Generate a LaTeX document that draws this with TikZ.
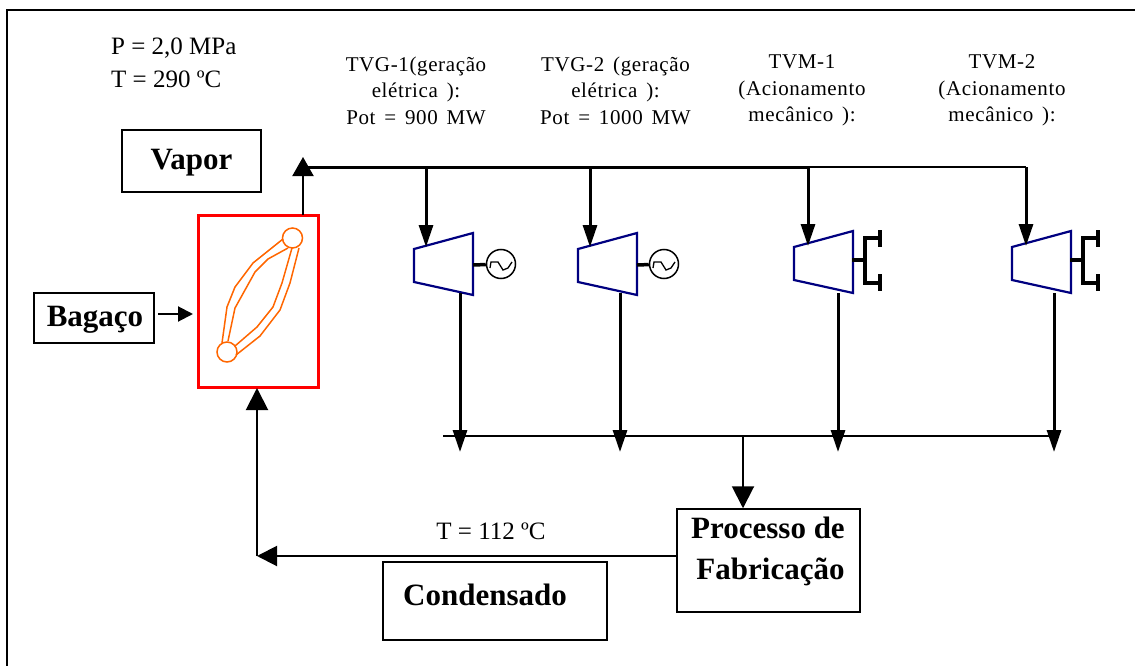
\documentclass[tikz,border=0pt]{standalone}
\usepackage{fontspec}
\setmainfont{Liberation Serif}
\newfontfamily\infofont[LetterSpace=3,WordSpace=1.5]{Liberation Serif}
\usetikzlibrary{arrows.meta}
\definecolor{turbineblue}{RGB}{0,0,128}
\definecolor{coilorange}{RGB}{255,102,0}
\tikzset{
every node/.style={inner sep=0pt},
box/.style={rectangle, draw, line width=1.5pt},
boxtext/.style={font=\fontsize{31}{41}\selectfont\bfseries, align=center},
info/.style={font=\fontsize{21}{26.5}\selectfont\infofont, align=center},
data/.style={font=\fontsize{25}{32.5}\selectfont, align=left},
steam/.style={line width=3pt, -{Triangle[length=22pt,width=14pt]}},
flow/.style={line width=2pt, -{Triangle[length=20pt,width=20pt]}},
blade/.style={draw=turbineblue, line width=2.2pt},
coil/.style={draw=coilorange, line width=1.5pt},
shaft/.style={line width=3.5pt}
}

\begin{document}
\begin{tikzpicture}[x=1pt,y=-1pt]
\useasboundingbox (0,0) rectangle (1135,666);
\draw[line width=2pt] (7,666) -- (7,10) -- (1135,10);

\node[data,anchor=north west] (data) at (111,38) {P = 2,0 MPa\\T = 290 ºC};
\node[info] (lab1) at (416,90.5) {TVG-1(geração\\elétrica ):\\Pot = 900 MW};
\node[info] (lab2) at (615.5,90.5) {TVG-2 (geração\\elétrica ):\\Pot = 1000 MW};
\node[info] (lab3) at (802,90.5) {TVM-1\\(Acionamento\\mecânico ):};
\node[info] (lab4) at (1002,90.5) {TVM-2\\(Acionamento\\mecânico ):};
\node[data] (lab5) at (491,531) {T = 112 ºC};

\node[box,minimum width=139pt,minimum height=62pt] (vapor) at (191.5,161) {};
\node[box,minimum width=120pt,minimum height=50pt] (bagaco) at (94,318) {};
\node[box,minimum width=224pt,minimum height=78pt] (cond) at (495,601) {};
\node[box,minimum width=183pt,minimum height=103pt] (proc) at (768.5,560.5) {};
\node[boxtext] (vaportxt) at (191.5,163) {Vapor};
\node[boxtext] (bagacotxt) at (95,320) {Bagaço};
\node[boxtext] (condtxt) at (485,595) {Condensado};
\node[boxtext] (proctxt) at (768,551) {Processo de\\\hspace*{5pt}Fabricação};
\node[rectangle,draw=red,line width=3pt,minimum width=120pt,minimum height=172pt] (boiler) at (258,301) {};

% coil inside the boiler
\node[circle,coil,minimum size=20pt] (drumA) at (292.5,238) {};
\node[circle,coil,minimum size=20pt] (drumB) at (227,352) {};
\draw[coil] (283,239) -- (253,263) -- (235,287) -- (227,307) -- (222,343);
\draw[coil] (288,248) -- (268,259) -- (255,272) -- (235,308) -- (228,341);
\draw[coil] (299,248) -- (290,283) -- (280,310) -- (260,336) -- (236,355);
\draw[coil] (292,248) -- (282,283) -- (273,307) -- (257,327) -- (235,346);

% turbines
\foreach \name/\xa/\ya in {t1/414/0,t2/578/0,t3/794/-2,t4/1012/-2}{
\draw[blade] (\xa,249+\ya) -- (\xa+59,233+\ya) -- (\xa+59,295+\ya) -- (\xa,282+\ya) -- cycle;
}
\coordinate (t1in) at (426,247);
\coordinate (t2in) at (590,247);
\coordinate (t3in) at (808,246);
\coordinate (t4in) at (1026,246);
\coordinate (t1out) at (460,293);
\coordinate (t2out) at (620,293);
\coordinate (t3out) at (838,293);
\coordinate (t4out) at (1054,293);

% generators
\node[circle,draw,line width=1.5pt,minimum size=29pt] (gen1) at (501,264) {};
\node[circle,draw,line width=1.5pt,minimum size=29pt] (gen2) at (664,264) {};
\foreach \g in {gen1,gen2}{
\draw[line width=1.3pt,shift={(\g)}] (-11,4) -- (-10,-2) -- (-3,-2) -- (2,6) -- (7,4) -- (11,-2);
}
\coordinate (t1r) at (473,265);
\coordinate (t2r) at (637,265);
\draw[shaft] (t1r) -- (gen1);
\draw[shaft] (t2r) -- (gen2);

% mechanical loads
\foreach \xb in {0,218}{
\draw[shaft] (852+\xb,260) -- (865+\xb,260);
\draw[line width=4pt] (880+\xb,230) -- (880+\xb,247);
\draw[line width=4pt] (880+\xb,274) -- (880+\xb,291);
\draw[line width=4pt] (880+\xb,237.5) -- (865+\xb,237.5) -- (865+\xb,283) -- (880+\xb,283);
}

% steam header
\coordinate (top) at (303,157);
\coordinate (bout) at (303,215);
\coordinate (h0) at (303,167);
\coordinate (h1) at (426,167);
\coordinate (h2) at (590,167);
\coordinate (h3) at (808,167);
\coordinate (h4) at (1026,167);
\draw[line width=2pt,-{Triangle[length=19pt,width=21pt]}] (bout) -- (top);
\draw[line width=3pt] (h0) -- (h3);
\draw[line width=2pt,line cap=square] (h3) -- (h4);
\draw[steam] (h1) -- (t1in);
\draw[steam] (h2) -- (t2in);
\draw[steam] (h3) -- (t3in);
\draw[steam] (h4) -- (t4in);

% exhaust header
\coordinate (c0) at (443,436);
\coordinate (c1) at (460,452);
\coordinate (c2) at (620,452);
\coordinate (c3) at (838,452);
\coordinate (c4) at (1054,452);
\coordinate (c5) at (1054,436);
\coordinate (c6) at (743,436);
\draw[line width=2pt] (c0) -- (c5);
\draw[steam] (t1out) -- (c1);
\draw[steam] (t2out) -- (c2);
\draw[steam] (t3out) -- (c3);
\draw[steam] (t4out) -- (c4);
\draw[flow,-{Triangle[length=22pt,width=22pt]}] (c6) -- (c6 |- proc.north);

% return line
\coordinate (r0) at (257,556);
\coordinate (r1) at (257,388);
\draw[flow] (r0 -| proc.west) -- (r0);
\draw[line width=2pt,-{Triangle[length=22pt,width=22pt]}] (r0) -- (r1);
\coordinate (b0) at (158,314);
\coordinate (b1) at (193,314);
\draw[line width=2pt,-{Triangle[length=15pt,width=15pt]}] (b0) -- (b1);
\end{tikzpicture}
\end{document}
